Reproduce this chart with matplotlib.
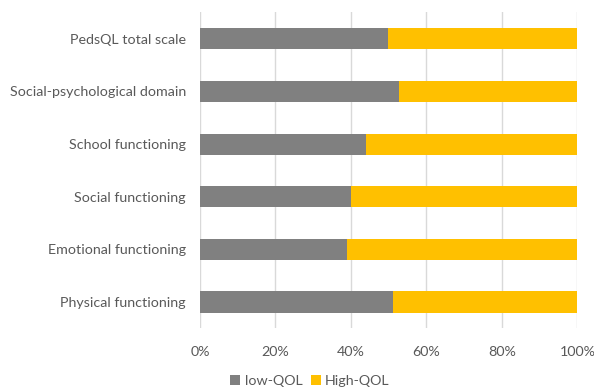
import numpy as np
import matplotlib.pyplot as plt
from matplotlib.ticker import PercentFormatter

# Domains, bottom to top
domains = ['Physical functioning', 'Emotional functioning', 'Social functioning',
           'School functioning', 'Social-psychological domain', 'PedsQL total scale']
low_qol = [51.1, 38.9, 39.9, 44.0, 52.8, 49.9]
high_qol = [100 - v for v in low_qol]

plt.rcParams['font.family'] = ['Lato', 'DejaVu Sans']
txt = '#595959'

fig = plt.figure(figsize=(5.94, 3.89), dpi=100)
ax = fig.add_axes([0.3367, 0.156, 0.6355, 0.812])

y = np.arange(len(domains))
ax.barh(y, low_qol, height=0.4, color='#808080', label='low-QOL', zorder=3)
ax.barh(y, high_qol, left=low_qol, height=0.4, color='#FFC000', label='High-QOL', zorder=3)

ax.set_xlim(0, 100)
ax.set_ylim(-0.5, len(domains) - 0.5)
ax.set_xticks(np.arange(0, 101, 20))
ax.xaxis.set_major_formatter(PercentFormatter(decimals=0))
ax.set_yticks(y)
ax.set_yticklabels(domains)
ax.tick_params(axis='both', length=0, labelsize=10.3, colors=txt)
ax.tick_params(axis='x', pad=13)
ax.tick_params(axis='y', pad=10)
ax.grid(axis='x', color='#d9d9d9', linewidth=1, zorder=0)
for s in ax.spines.values():
    s.set_visible(False)

fig.legend(*ax.get_legend_handles_labels(), loc='center', bbox_to_anchor=(0.522, 0.02),
           ncol=2, frameon=False, fontsize=10.3, labelcolor=txt, handlelength=0.7,
           handleheight=0.7, handletextpad=0.3, columnspacing=0.6, borderpad=0)

fig.savefig('out.png', dpi=100)
